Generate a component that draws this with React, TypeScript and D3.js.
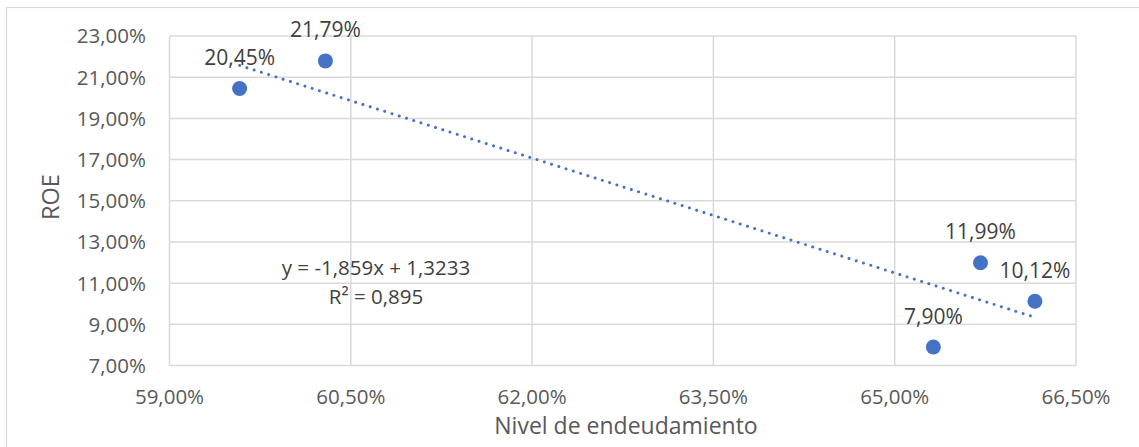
import React from "react";
import * as d3 from "d3";

const xValues = [0.5958, 0.6029, 0.6532, 0.6571, 0.6616];
const yValues = [0.2045, 0.2179, 0.079, 0.1199, 0.1012];
const xTicks = [0.59, 0.605, 0.62, 0.635, 0.65, 0.665];
const yTicks = [0.07, 0.09, 0.11, 0.13, 0.15, 0.17, 0.19, 0.21, 0.23];
const trendSlope = -1.859;
const trendIntercept = 1.3233;
const trendR2 = 0.895;
const xTitle = "Nivel de endeudamiento";
const yTitle = "ROE";

const W = 1139;
const H = 447;
const FONT = "'Open Sans', 'Liberation Sans', sans-serif";

const locale = d3.formatLocale({
  decimal: ",",
  thousands: ".",
  grouping: [3],
  currency: ["", "€"],
  minus: "-",
});
const pct = locale.format(".2%");
const num = (v: number, d: number) => locale.format(`.${d}f`)(v);

export default function App() {
  const x = d3.scaleLinear().domain([0.59, 0.665]).range([169.5, 1076]);
  const y = d3.scaleLinear().domain([0.07, 0.23]).range([365.5, 36]);
  const xMin = d3.min(xValues)!;
  const xMax = d3.max(xValues)!;
  const trend = d3
    .line<number>()
    .x((d) => x(d))
    .y((d) => y(trendSlope * d + trendIntercept));
  const grid = "#d9d9d9";
  const tickColor = "#595959";
  const labelColor = "#404040";
  return (
    <svg
      width={W}
      height={H}
      style={{ position: "absolute", left: 0, top: 0, background: "#fff" }}
      fontFamily={FONT}
    >
      <rect x={6.5} y={7.5} width={W + 10} height={H + 10} fill="#fff" stroke={grid} strokeWidth={1.2} />
      {yTicks.map((t) => (
        <line key={"gy" + t} x1={x(0.59)} x2={x(0.665)} y1={y(t)} y2={y(t)} stroke={grid} strokeWidth={1.5} />
      ))}
      {xTicks.map((t) => (
        <line key={"gx" + t} x1={x(t)} x2={x(t)} y1={y(0.07)} y2={y(0.23)} stroke={grid} strokeWidth={1.5} />
      ))}
      {yTicks.map((t) => (
        <text key={"ty" + t} x={146} y={y(t)} dy="0.36em" textAnchor="end" fontSize={20.5} fill={tickColor}>
          {pct(t)}
        </text>
      ))}
      {xTicks.map((t) => (
        <text key={"tx" + t} x={x(t)} y={397} dy="0.36em" textAnchor="middle" fontSize={20.5} fill={tickColor}>
          {pct(t)}
        </text>
      ))}
      <text x={626} y={426} dy="0.36em" textAnchor="middle" fontSize={23} fill={tickColor}>
        {xTitle}
      </text>
      <text
        transform={`translate(51,197) rotate(-90)`}
        dy="0.36em"
        textAnchor="middle"
        fontSize={23.5}
        fill={tickColor}
      >
        {yTitle}
      </text>
      <path
        d={trend([xMin, xMax]) || ""}
        fill="none"
        stroke="#4472C4"
        strokeWidth={3}
        strokeLinecap="round"
        strokeDasharray="0.01 7.6"
      />
      {xValues.map((xv, i) => (
        <circle key={"p" + i} cx={x(xv)} cy={y(yValues[i])} r={7.5} fill="#4472C4" />
      ))}
      {xValues.map((xv, i) => (
        <text
          key={"l" + i}
          x={x(xv)}
          y={y(yValues[i]) - 31}
          dy="0.36em"
          textAnchor="middle"
          fontSize={21}
          fill={labelColor}
        >
          {pct(yValues[i])}
        </text>
      ))}
      <text x={376} y={268} dy="0.36em" textAnchor="middle" fontSize={20.5} fill={labelColor}>
        {`y = ${num(trendSlope, 3)}x + ${num(trendIntercept, 4)}`}
      </text>
      <text x={376} y={297} dy="0.36em" textAnchor="middle" fontSize={20.5} fill={labelColor}>
        {`R² = ${num(trendR2, 3)}`}
      </text>
    </svg>
  );
}
